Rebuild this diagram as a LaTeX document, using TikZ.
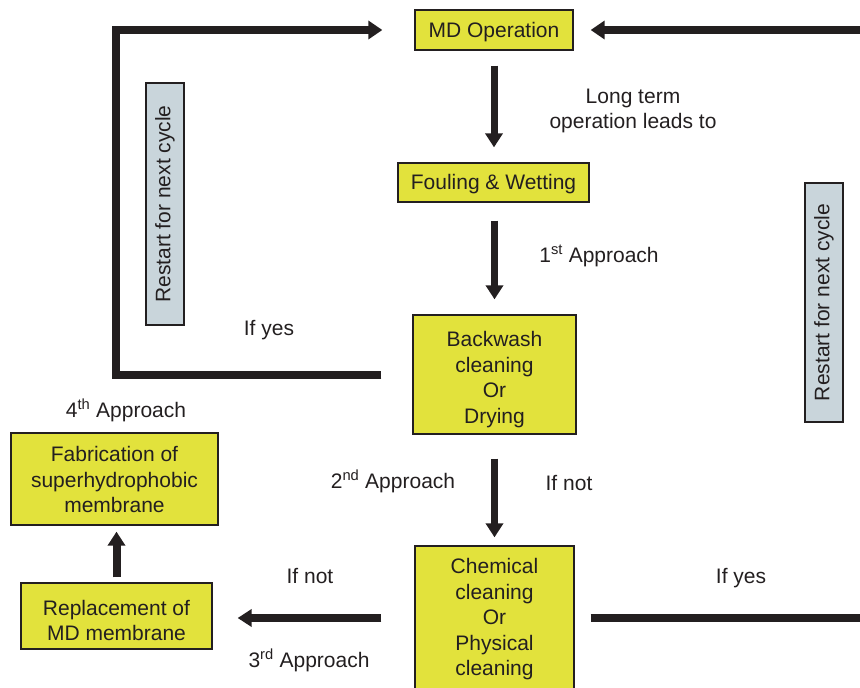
\documentclass[tikz,border=0pt]{standalone}
\usepackage{fontspec}
\setmainfont{Liberation Sans}
\usetikzlibrary{arrows.meta}
\definecolor{boxyellow}{RGB}{226,226,60}
\definecolor{boxgrey}{RGB}{201,213,219}
\definecolor{ink}{RGB}{35,31,32}
\begin{document}
\begin{tikzpicture}[x=1pt,y=-1pt,
  font=\fontsize{21}{25.5}\selectfont, text=ink,
  flowbox/.style={draw=ink, line width=1.3pt, fill=boxyellow, inner sep=0pt},
  boxtext/.style={align=center, inner sep=0pt},
  restartbox/.style={draw=ink, line width=1.3pt, fill=boxgrey, rotate=90, inner sep=0pt,
    minimum height=38pt},
  stemarrow/.style={draw=ink, line width=7pt, -{Triangle[length=14pt,width=17pt]}},
  loopline/.style={draw=ink, line width=8pt, line join=miter, -{Triangle[length=14pt,width=18pt]}},
  note/.style={anchor=base, inner sep=0pt}]
\useasboundingbox (0,0) rectangle (860,688);

% process boxes
\node[flowbox, minimum width=158pt, minimum height=40pt] (md) at (494,30) {};
\node[flowbox, minimum width=191pt, minimum height=39pt] (foul) at (493.5,182.5) {};
\node[flowbox, minimum width=163pt, minimum height=119pt] (bw) at (494.5,374.5) {};
\node[flowbox, minimum width=159pt, minimum height=144pt] (chem) at (494.5,618) {};
\node[flowbox, minimum width=191pt, minimum height=66pt] (repl) at (116.5,616) {};
\node[flowbox, minimum width=207pt, minimum height=92pt] (fab) at (114.5,479) {};

% box captions
\node[boxtext] (mdt) at ([yshift=-2pt]md.center) {MD Operation};
\node[boxtext] (foult) at ([yshift=-2pt]foul.center) {Fouling \& Wetting};
\node[boxtext] (bwt) at ([yshift=-5pt]bw.center) {Backwash\\cleaning\\Or\\Drying};
\node[boxtext] (chemt) at ([yshift=-1.5pt]chem.center) {Chemical\\cleaning\\Or\\Physical\\cleaning};
\node[boxtext] (replt) at ([yshift=-4.5pt]repl.center) {Replacement of\\MD membrane};
\node[boxtext] (fabt) at ([yshift=-0.5pt]fab.center) {Fabrication of\\superhydrophobic\\membrane};

% restart markers
\node[restartbox, minimum width=242pt] (rl) at (165,204) {Restart for next cycle};
\node[restartbox, minimum width=239pt] (rr) at (824,302.5) {Restart for next cycle};

% main sequence
\draw[stemarrow, shorten <=15pt, shorten >=15pt] (md.south) -- (md.south |- foul.north);
\draw[stemarrow, shorten <=18pt, shorten >=15pt] (bw.north |- foul.south) -- (bw.north);
\draw[stemarrow, shorten <=24pt, shorten >=8pt] (bw.south) -- (bw.south |- chem.north);
\draw[stemarrow, line width=8pt, shorten <=33pt] (chem.west) -- ([xshift=25pt]repl.east |- chem.west);
\draw[stemarrow, line width=8pt, shorten <=5pt, shorten >=6pt] (repl.north) -- (repl.north |- fab.south);

% restart loops
\draw[loopline] ([xshift=-31pt]bw.west) -| ([xshift=-298pt]md.west) -- ([xshift=-32pt]md.west);
\draw[loopline] ([xshift=16pt]chem.east) -| ([xshift=290pt]md.east) -- ([xshift=17pt]md.east);

% labels
\node[anchor=center, align=center] (lt) at (633,111) {Long term\\operation leads to};
\node[note] (a1) at (599,262.5) {1\textsuperscript{st} Approach};
\node[note] (y1) at (269,335.5) {If yes};
\node[note] (a4) at (126,417.5) {4\textsuperscript{th} Approach};
\node[note] (a2) at (393,488.5) {2\textsuperscript{nd} Approach};
\node[note] (n1) at (569,490.5) {If not};
\node[note] (n2) at (310,583.5) {If not};
\node[note] (y2) at (741,583.5) {If yes};
\node[note] (a3) at (309,667.5) {3\textsuperscript{rd} Approach};
\end{tikzpicture}
\end{document}
